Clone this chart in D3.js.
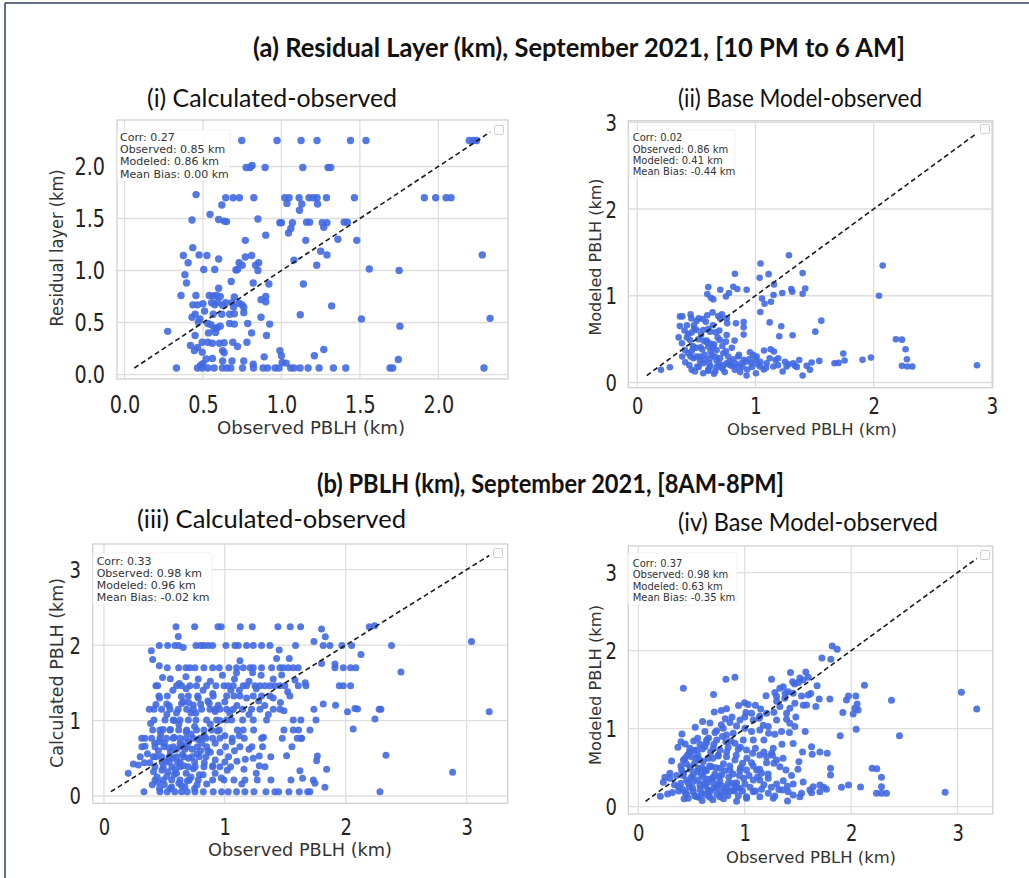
<!DOCTYPE html>
<html><head><meta charset="utf-8">
<script src="https://cdn.jsdelivr.net/npm/d3@7"></script>
<style>body{margin:0;background:#fff}svg{display:block}</style>
</head><body>
<script>
// ---------------- DATA ----------------
// (i) Residual layer: calculated vs observed (night)
const calcNight = [
[0.747,2.25],[0.972,2.25],[1.125,2.25],[1.227,2.25],[1.44,2.25],[1.539,2.25],[2.197,2.25],[2.223,2.25],[2.244,2.25],
[0.775,1.99],[0.80,1.99],[0.813,2.01],[0.896,1.99],[1.136,1.99],[1.297,1.99],[1.314,1.99],
[0.456,1.73],[0.645,1.70],[0.692,1.70],[0.732,1.70],[0.824,1.70],[1.021,1.70],[1.049,1.70],[1.113,1.70],[1.176,1.70],[1.204,1.70],[1.227,1.70],[1.287,1.70],[1.465,1.70],[1.911,1.70],[1.983,1.70],[2.049,1.70],[2.081,1.70],
[0.62,1.63],[1.035,1.645],[1.13,1.64],[1.23,1.64],[1.115,1.58],
[0.43,1.485],[0.545,1.54],[0.60,1.49],[0.635,1.475],[0.65,1.47],[0.85,1.495],[0.99,1.46],[1.0,1.46],[1.07,1.46],[1.16,1.465],[1.18,1.465],[1.26,1.46],[1.29,1.46],[1.27,1.415],[1.40,1.465],[1.42,1.465],
[1.045,1.36],[1.06,1.405],[0.90,1.34],[0.77,1.29],[1.155,1.29],[1.36,1.30],[1.48,1.29],
[0.435,1.22],[0.375,1.145],[0.475,1.15],[0.525,1.145],[0.60,1.11],[0.77,1.13],[0.81,1.145],[1.25,1.185],[1.29,1.15],[2.28,1.15],[1.08,1.10],
[0.405,1.075],[0.73,1.075],[0.75,1.05],[0.71,1.005],[0.72,1.01],[0.835,1.05],[0.855,1.075],[0.85,1.0],[1.225,1.05],[1.56,1.015],[1.75,1.0],[0.505,1.01],[0.575,1.01],[0.385,0.96],
[0.395,0.88],[0.60,0.83],[0.68,0.895],[0.82,0.88],[0.92,0.87],[1.14,0.87],[0.87,0.72],[0.90,0.75],[0.90,0.70],
[0.36,0.76],[0.455,0.76],[0.54,0.76],[0.565,0.755],[0.585,0.76],[0.61,0.75],[0.70,0.745],
[0.435,0.67],[0.465,0.67],[0.50,0.68],[0.555,0.69],[0.595,0.695],[0.645,0.69],[0.685,0.69],[0.73,0.685],[0.75,0.67],[0.76,0.645],[1.32,0.66],[0.575,0.67],[0.625,0.665],[0.695,0.65],
[0.45,0.58],[0.51,0.61],[0.565,0.58],[0.62,0.58],[0.67,0.58],[0.70,0.585],[0.76,0.595],[1.12,0.575],[0.43,0.55],[0.48,0.535],[0.87,0.55],[1.51,0.535],[2.33,0.54],[0.47,0.505],[0.53,0.49],
[0.55,0.48],[0.57,0.445],[0.59,0.45],[0.61,0.465],[0.70,0.485],[0.67,0.49],[0.785,0.49],[0.925,0.485],[1.755,0.465],[0.275,0.415],[0.45,0.375],[0.535,0.40],[0.58,0.405],[0.81,0.40],[0.905,0.375],
[0.42,0.28],[0.465,0.26],[0.495,0.31],[0.53,0.31],[0.56,0.30],[0.605,0.30],[0.635,0.305],[0.69,0.31],[0.72,0.27],[0.78,0.31],
[0.445,0.23],[0.495,0.215],[0.625,0.23],[0.635,0.21],[0.99,0.23],[1.27,0.24],[0.89,0.17],[1.21,0.18],[1.0,0.18],
[0.52,0.15],[0.56,0.155],[0.625,0.13],[0.685,0.13],[0.76,0.13],[1.005,0.115],[1.03,0.11],[1.745,0.145],[0.485,0.09],[0.50,0.105],[0.82,0.10],
[0.331,0.0625],[0.465,0.0625],[0.495,0.0625],[0.531,0.0625],[0.571,0.0625],[0.624,0.0625],[0.652,0.0625],[0.677,0.0625],[0.752,0.0625],[0.822,0.0625],[0.883,0.0625],[0.911,0.0625],[0.96,0.0625],[0.985,0.0625],[1.059,0.0625],[1.08,0.0625],[1.119,0.0625],[1.17,0.0625],[1.24,0.0625],[1.331,0.0625],[1.41,0.0625],[1.692,0.0625],[1.709,0.0625],[2.291,0.0625]
];

// (ii) Base model vs observed (night)
const modelNight = [
[1.283,1.467],[1.043,1.372],[2.076,1.349],[1.111,1.249],[1.399,1.261],[0.826,1.253],[1.035,1.207],[1.156,1.130],[1.303,1.077],[1.311,1.046],
[1.421,1.084],[1.399,1.023],[1.227,1.031],[1.153,1.008],[0.925,1.069],[0.846,1.077],[0.812,1.103],[0.702,1.069],[0.601,1.100],[0.592,1.019],
[0.623,0.977],[0.643,0.958],[0.750,0.992],[0.776,1.031],[1.055,0.969],[1.077,0.908],[1.131,0.931],[2.045,1.000],[1.041,0.812],
[0.361,0.762],[0.381,0.762],[0.451,0.785],[0.457,0.739],[0.502,0.709],[0.553,0.732],[0.592,0.774],[0.637,0.808],[0.685,0.766],[0.716,0.785],
[0.756,0.739],[0.761,0.682],[0.835,0.682],[0.900,0.697],[0.900,0.636],[1.120,0.693],[1.218,0.648],[1.557,0.713],[1.506,0.586],[1.314,0.544],
[1.201,0.533],[0.900,0.552],[0.431,0.559],[0.460,0.575],[0.502,0.605],[0.558,0.605],[0.615,0.586],[0.694,0.598],[0.756,0.548],[0.823,0.483],
[0.378,0.452],[0.446,0.490],[0.516,0.498],[0.587,0.483],[0.699,0.490],[0.750,0.471],[2.188,0.498],[2.239,0.494],[2.270,0.383],[2.281,0.268],
[2.239,0.192],[2.284,0.184],[2.327,0.184],[2.874,0.199],[0.403,0.375],[0.474,0.395],[0.536,0.406],[0.601,0.414],[0.671,0.375],[0.728,0.337],
[0.953,0.349],[1.072,0.368],[1.128,0.383],[1.156,0.356],[1.743,0.333],[1.977,0.287],[1.906,0.261],[1.754,0.253],[1.703,0.226],[1.669,0.222],
[1.540,0.249],[0.200,0.146],[0.276,0.176],[0.406,0.234],[0.460,0.146],[0.508,0.184],[0.558,0.222],[0.615,0.184],[0.649,0.100],[0.699,0.184],
[0.756,0.222],[0.812,0.268],[0.854,0.184],[0.902,0.261],[0.925,0.080],[0.967,0.222],[1.004,0.107],[1.038,0.184],[1.094,0.222],[1.151,0.184],
[1.193,0.280],[1.230,0.126],[1.263,0.184],[1.334,0.192],[1.399,0.080],[1.433,0.192],[1.475,0.230],[1.461,0.146],[1.320,0.222],[1.010,0.299],
[0.981,0.318],[0.854,0.299],[0.530,0.299],[0.474,0.280],[0.431,0.337],[0.615,0.280],[0.671,0.253],[0.784,0.203],[0.826,0.146],[0.558,0.107],
[0.488,0.126],[0.601,0.134],[0.53,0.25],[0.57,0.32],[0.62,0.36],[0.66,0.30],[0.69,0.22],[0.72,0.16],[0.77,0.30],[0.80,0.19],
[0.88,0.22],[0.93,0.15],[0.95,0.27],[0.50,0.40],[0.54,0.55],[0.64,0.66],[0.68,0.52],[0.72,0.42],[0.58,0.70],[0.48,0.62],
[0.62,0.45],[0.45,0.30],[0.40,0.60],[0.35,0.52],[0.60,0.15],[0.66,0.13],[0.74,0.12],[0.87,0.12],[1.07,0.15],[1.17,0.26],
[1.25,0.24],[1.37,0.26],[1.02,0.21],
[0.44,0.20],[0.47,0.42],[0.50,0.30],[0.52,0.18],[0.55,0.38],[0.57,0.26],[0.59,0.46],[0.61,0.22],[0.63,0.32],[0.65,0.44],
[0.67,0.18],[0.70,0.28],[0.73,0.20],[0.75,0.36],[0.78,0.24],[0.80,0.40],[0.83,0.22],[0.86,0.32],[0.89,0.18],[0.92,0.24],
[0.97,0.18],[1.00,0.26],[1.04,0.24],[1.09,0.17],[1.12,0.28],[1.19,0.20],[1.28,0.21],[1.35,0.18],[0.42,0.52],[0.48,0.66],
[0.56,0.48],[0.60,0.62],[0.66,0.58],[0.70,0.74],[0.52,0.74],[0.46,0.36],[0.38,0.30],[0.36,0.65],[0.42,0.66],[0.64,0.40]
];

// (iii) Calculated PBLH vs observed (day)
const calcDay = [
[0.596,2.243],[0.750,2.243],[0.943,2.243],[0.970,2.243],[1.128,2.243],[1.227,2.243],[1.439,2.243],[1.541,2.243],[1.627,2.243],[1.800,2.212],[2.195,2.243],[2.239,2.256],[0.615,2.115],[1.831,2.110],
[0.458,1.996],[0.527,1.996],[0.587,1.996],[0.618,1.996],[0.656,1.969],[0.761,1.996],[0.800,1.996],[0.827,1.996],[0.863,1.996],[0.899,1.996],[1.009,1.996],[1.084,1.996],[1.111,1.996],[1.180,1.996],[1.235,1.996],[1.304,1.996],[1.373,1.996],[1.450,1.934],[1.585,1.996],[1.814,1.996],[1.869,1.996],[1.969,1.996],[2.049,1.996],[2.379,1.996],
[0.392,1.925],[1.737,2.049],[3.041,2.049],[2.126,1.876],[2.457,1.642],[0.403,1.810],[1.428,1.823],[1.533,1.823],[1.125,1.792],[1.800,1.757],
[0.458,1.726],[0.524,1.70],[0.618,1.70],[0.678,1.70],[0.711,1.70],[0.753,1.70],[0.827,1.70],[0.899,1.70],[0.954,1.70],[1.034,1.70],[1.097,1.70],[1.152,1.70],[1.208,1.70],[1.235,1.70],[1.304,1.70],[1.387,1.70],[1.456,1.70],[1.483,1.70],[1.525,1.70],[1.566,1.70],[1.607,1.70],[1.911,1.70],[1.980,1.70],[2.040,1.70],[2.084,1.70],
[0.485,1.572],[0.549,1.554],[0.623,1.492],[0.678,1.581],[1.097,1.634],[1.230,1.634],[1.470,1.603],[1.580,1.536],[1.665,1.501],[1.911,1.748],
[0.430,1.461],[0.444,1.461],[0.601,1.461],[0.642,1.461],[0.711,1.461],[0.766,1.461],[0.849,1.461],[0.926,1.461],[0.993,1.461],[1.028,1.461],[1.070,1.461],[1.152,1.461],[1.180,1.461],[1.249,1.461],[1.290,1.461],[1.332,1.461],[1.373,1.461],[1.414,1.461],[1.456,1.461],[1.497,1.461],[1.607,1.461],[1.671,1.461],[1.947,1.461],[1.980,1.461],[2.040,1.461],
[0.455,1.325],[0.524,1.325],[0.698,1.325],[0.775,1.325],[0.904,1.325],[1.015,1.325],[1.075,1.325],[1.125,1.325],[1.235,1.325],[1.304,1.325],[1.373,1.325],[1.538,1.325],
[0.430,1.214],[0.540,1.196],[0.642,1.227],[0.739,1.205],[0.800,1.219],[0.871,1.227],[0.946,1.201],
[0.375,1.148],[0.414,1.148],[0.477,1.148],[0.546,1.148],[0.615,1.148],[0.684,1.148],[0.739,1.148],[0.808,1.148],[0.877,1.148],[0.918,1.148],[0.959,1.148],[1.015,1.148],[1.070,1.148],[1.147,1.148],[1.221,1.148],[1.290,1.148],[1.401,1.148],[1.456,1.148],[1.489,1.130],[1.814,1.219],[1.916,1.201],[1.737,1.148],[2.015,1.117],[2.076,1.161],[2.098,1.152],[2.277,1.148],[2.291,1.148],[3.187,1.117],[2.242,1.020],
[0.386,0.962],[0.414,1.007],[0.505,1.007],[0.573,1.007],[0.629,1.007],[0.698,1.007],[0.761,1.007],[0.849,1.007],[0.932,1.007],[1.015,1.007],[1.056,1.007],[1.147,1.007],[1.235,1.007],[1.345,1.007],[1.566,1.007],[1.629,1.007],[1.754,1.007],[2.062,0.887],
[0.403,0.874],[0.463,0.874],[0.546,0.874],[0.618,0.874],[0.684,0.874],[0.766,0.874],[0.827,0.874],[0.891,0.874],[0.954,0.874],[1.103,0.874],[1.152,0.874],[1.238,0.874],[1.489,0.874],[1.566,0.874],[1.610,0.874],[1.704,0.874],[1.635,0.764],
[0.312,0.764],[0.339,0.764],[0.394,0.764],[0.463,0.764],[0.518,0.764],[0.573,0.764],[0.629,0.764],[0.678,0.764],[0.739,0.764],[0.794,0.764],[0.844,0.764],[0.899,0.764],[0.959,0.764],[1.061,0.764],[1.161,0.764],[1.304,0.764],[1.475,0.764],[1.599,0.764],[1.632,0.764],
[0.314,0.653],[0.422,0.653],[0.496,0.653],[0.573,0.653],[0.634,0.653],[0.689,0.653],[0.772,0.653],[0.849,0.653],[1.006,0.653],[1.125,0.653],[1.224,0.653],[1.312,0.653],[1.555,0.653],
[0.243,0.424],[0.284,0.411],[0.334,0.442],[0.408,0.521],[0.477,0.521],[0.540,0.521],[0.601,0.521],[0.662,0.521],[0.728,0.521],[0.789,0.521],[0.844,0.521],[0.921,0.477],[1.031,0.521],[1.169,0.486],[1.235,0.499],[1.285,0.530],[1.511,0.534],[1.765,0.530],[2.333,0.539],[1.759,0.468],
[0.201,0.300],[0.422,0.389],[0.491,0.389],[0.562,0.389],[0.629,0.389],[0.698,0.389],[0.755,0.389],[0.827,0.389],[0.899,0.389],[0.959,0.389],[1.048,0.389],[1.158,0.353],[1.285,0.402],[1.332,0.389],[1.621,0.336],[1.842,0.353],[2.884,0.313],[1.643,0.234],
[0.422,0.212],[0.491,0.212],[0.560,0.212],[0.629,0.212],[0.706,0.212],[0.780,0.212],[0.899,0.212],[0.993,0.212],[1.075,0.212],[1.166,0.212],[1.268,0.212],[1.381,0.212],[1.547,0.212],[1.732,0.212],[1.745,0.168],
[0.331,0.057],[0.463,0.057],[0.524,0.057],[0.587,0.057],[0.642,0.057],[0.689,0.057],[0.753,0.057],[0.822,0.057],[0.904,0.057],[0.973,0.057],[1.028,0.057],[1.097,0.057],[1.166,0.057],[1.241,0.057],[1.340,0.057],[1.414,0.057],[1.445,0.057],[1.530,0.057],[1.616,0.057],[1.685,0.057],[1.704,0.057],[1.828,0.115],[2.283,0.057],
[0.45,0.60],[0.50,0.70],[0.55,0.58],[0.60,0.62],[0.65,0.55],[0.70,0.72],[0.48,0.45],[0.53,0.32],[0.58,0.28],[0.63,0.45],[0.68,0.30],[0.73,0.62],[0.44,0.25],[0.50,0.15],[0.56,0.12],[0.62,0.17],[0.67,0.12],[0.72,0.25],[0.77,0.15],[0.82,0.28],
[0.86,0.60],[0.92,0.70],[0.96,0.58],[0.47,0.82],[0.55,0.88],[0.62,0.95],[0.68,0.85],[0.75,0.92],[0.83,0.80],[0.88,0.95],[0.52,1.08],[0.60,1.10],[0.66,1.25],[0.72,1.10],[0.78,1.30],[0.86,1.26],[0.92,1.12],[1.00,1.25],[1.05,1.40],[1.10,1.20],
[1.18,1.30],[1.26,1.42],[1.33,1.20],[1.40,1.30],[0.57,1.40],[0.68,1.42],[0.78,1.55],[0.88,1.52],[0.98,1.60],[1.08,1.55],[1.20,1.52],[1.30,1.60],[1.40,1.55],[0.42,0.70],[0.40,0.15],[0.46,0.10],[0.54,0.45],[0.59,0.35],[0.65,0.68],[0.75,0.45],
[0.80,0.60],[0.78,0.75],[0.92,0.30],[1.00,0.45],[1.08,0.60],[1.12,0.80],[1.00,0.80],
[0.41,0.32],[0.43,0.52],[0.45,0.18],[0.46,0.72],[0.48,0.34],[0.49,0.88],[0.51,0.46],[0.52,0.26],[0.54,0.64],[0.55,0.10],
[0.57,0.50],[0.58,0.78],[0.60,0.30],[0.61,0.44],[0.63,0.70],[0.64,0.14],[0.66,0.40],[0.67,0.62],[0.69,0.20],[0.70,0.50],
[0.72,0.82],[0.74,0.36],[0.75,0.10],[0.77,0.56],[0.79,0.28],[0.81,0.70],[0.83,0.44],[0.85,0.16],[0.88,0.58],[0.90,0.40],
[0.94,0.86],[0.97,0.24],[1.02,0.34],[1.06,0.72],[1.10,0.46],[1.14,0.16],[1.20,0.62],[1.26,0.30],[1.32,0.78],[1.38,0.52],
[0.46,1.30],[0.52,1.22],[0.58,1.00],[0.64,1.32],[0.70,1.24],[0.76,1.10],[0.82,1.40],[0.90,1.36],[0.96,1.00],[1.04,1.10],
[1.12,1.40],[1.20,1.08],[1.28,1.26],[1.36,1.08],[1.46,1.24],[1.52,1.38],[0.36,0.56],[0.38,0.44],[0.34,0.66],[0.30,0.52]
];

// (iv) Base model vs observed (day)
const modelDay = [
[1.822,2.060],[1.869,2.017],[1.725,1.906],[1.809,1.889],[1.574,1.726],[1.430,1.718],[1.518,1.650],[1.596,1.658],[1.505,1.590],[1.468,1.573],
[1.549,1.624],[1.252,1.632],[1.362,1.538],[1.330,1.517],[1.408,1.474],[1.283,1.462],[1.299,1.410],[1.377,1.389],[1.455,1.453],[1.534,1.419],
[1.596,1.432],[2.125,1.556],[3.036,1.466],[3.180,1.252],[2.379,1.363],[1.975,1.419],[2.044,1.419],[1.800,1.380],[1.956,1.368],[2.056,1.316],
[2.034,1.261],[2.066,1.239],[1.922,1.205],[2.019,1.188],[1.668,1.282],[1.581,1.303],[1.471,1.325],[1.424,1.261],[1.330,1.282],[1.393,1.197],
[1.274,1.209],[1.205,1.197],[1.136,1.132],[0.423,1.517],[0.707,1.436],[0.823,1.632],[0.908,1.658],[0.942,1.295],[0.998,1.333],[1.033,1.308],
[1.064,1.197],[1.011,1.205],[0.955,1.111],[1.080,1.111],[1.142,1.162],[1.174,1.043],[1.221,1.026],[1.299,1.111],[1.393,1.120],[1.424,1.068],
[1.471,1.026],[1.568,0.962],[1.346,0.962],[1.283,0.927],[1.224,0.940],[1.142,0.983],[1.064,0.962],[1.002,1.004],[0.923,1.034],[0.861,1.077],
[0.817,1.128],[0.779,1.231],[0.829,1.256],[0.714,1.214],[0.604,1.090],[0.673,1.073],[0.535,1.017],[0.626,0.962],[0.736,0.974],[0.798,1.004],
[0.829,0.919],[0.892,0.940],[0.410,0.932],[0.401,0.833],[1.897,0.910],[2.047,0.991],[2.454,0.910],[0.557,0.876],[0.642,0.855],[0.736,0.855],
[0.823,0.833],[0.908,0.812],[0.986,0.855],[1.080,0.855],[1.180,0.855],[1.455,0.808],[1.268,0.748],[1.252,0.684],[1.543,0.701],[1.628,0.769],
[1.634,0.671],[1.706,0.701],[1.775,0.684],[0.372,0.761],[0.441,0.803],[0.485,0.748],[0.548,0.726],[0.626,0.769],[0.704,0.748],[0.767,0.726],
[0.845,0.761],[0.939,0.735],[1.017,0.726],[1.074,0.684],[1.142,0.662],[1.205,0.641],[1.299,0.598],[0.313,0.585],[0.423,0.598],[0.501,0.641],
[0.579,0.598],[0.657,0.620],[0.751,0.650],[0.829,0.641],[0.908,0.598],[0.980,0.556],[1.064,0.564],[1.205,0.564],[1.274,0.556],[1.330,0.513],
[1.387,0.470],[1.509,0.577],[1.806,0.491],[1.806,0.406],[2.197,0.491],[2.241,0.487],[2.285,0.376],[0.407,0.470],[0.485,0.513],[0.563,0.491],
[0.626,0.470],[0.689,0.513],[0.767,0.491],[0.861,0.470],[0.955,0.462],[1.017,0.470],[1.111,0.470],[1.158,0.427],[0.423,0.427],[0.297,0.427],
[0.250,0.376],[0.516,0.406],[0.610,0.385],[0.704,0.376],[0.782,0.406],[0.235,0.312],[0.297,0.363],[0.376,0.256],[0.454,0.342],[0.516,0.321],
[0.579,0.278],[0.642,0.299],[0.704,0.308],[0.767,0.321],[0.845,0.299],[0.923,0.308],[1.002,0.291],[1.080,0.342],[1.142,0.342],[1.221,0.363],
[1.299,0.291],[1.362,0.333],[1.455,0.291],[1.549,0.316],[1.643,0.256],[1.743,0.248],[1.706,0.278],[1.909,0.248],[1.975,0.278],[2.088,0.252],
[2.285,0.256],[0.416,0.222],[0.454,0.162],[0.516,0.192],[0.595,0.171],[0.657,0.214],[0.736,0.235],[0.814,0.192],[0.892,0.214],[0.955,0.235],
[1.017,0.128],[1.080,0.192],[1.158,0.222],[1.221,0.171],[1.283,0.137],[1.355,0.214],[1.408,0.192],[1.455,0.150],[1.534,0.171],[1.612,0.214],
[1.706,0.192],[1.768,0.222],[0.207,0.132],[0.275,0.162],[0.469,0.107],[0.548,0.128],[0.673,0.120],[0.767,0.128],[0.923,0.068],[1.017,0.107],
[1.142,0.128],[1.268,0.107],[1.402,0.073],[1.518,0.128],[1.628,0.179],[2.238,0.171],[2.285,0.171],[2.332,0.171],[2.883,0.184],
[0.45,0.55],[0.50,0.38],[0.55,0.62],[0.60,0.50],[0.65,0.35],[0.70,0.62],[0.75,0.28],[0.80,0.55],[0.85,0.38],[0.90,0.20],
[0.95,0.40],[0.48,0.25],[0.53,0.14],[0.58,0.22],[0.63,0.16],[0.68,0.20],[0.72,0.42],[0.78,0.18],[0.83,0.24],[0.88,0.30],
[0.52,0.72],[0.58,0.80],[0.66,0.88],[0.72,0.95],[0.78,1.05],[0.88,1.15],[0.62,0.30],[0.55,0.45],[0.46,0.66],[0.40,0.30],
[0.38,0.20],[0.98,0.20],[1.05,0.25],[1.10,0.20],[1.18,0.28],[1.25,0.25],[1.32,0.22],[1.40,0.26],[1.12,0.38],[1.02,0.62],
[1.10,0.75],[1.18,0.70],[1.35,0.80],[1.42,0.95],[1.48,1.15],[1.55,1.30],[1.62,1.45],[1.68,1.55],[1.70,1.38],[1.45,1.60],
[1.38,1.45],[1.30,1.35],[1.15,1.25],[1.20,1.42],[1.10,1.30],[1.00,1.15],
[0.42,0.40],[0.44,0.18],[0.47,0.30],[0.49,0.48],[0.51,0.24],[0.53,0.56],[0.56,0.34],[0.57,0.12],[0.59,0.42],[0.61,0.58],
[0.63,0.26],[0.64,0.46],[0.66,0.14],[0.67,0.52],[0.69,0.36],[0.71,0.24],[0.73,0.50],[0.74,0.16],[0.76,0.38],[0.79,0.26],
[0.81,0.46],[0.84,0.14],[0.86,0.52],[0.89,0.42],[0.91,0.28],[0.94,0.14],[0.96,0.50],[0.99,0.36],[0.44,0.62],[0.48,0.70],
[0.52,0.84],[0.56,0.66],[0.60,0.74],[0.64,0.82],[0.68,0.70],[0.71,0.80],[0.75,0.66],[0.79,0.90],[0.83,0.70],[0.87,0.84],
[0.92,0.66],[0.96,0.76],[0.40,0.52],[0.36,0.40],[0.34,0.28],[0.32,0.18],[0.43,0.10],[0.60,0.08],[0.70,0.09],[0.80,0.10],
[0.86,0.20],[0.93,0.24],[1.04,0.40],[1.08,0.52],[1.14,0.48],[1.22,0.42],[1.26,0.66],[1.36,0.62],[1.44,0.40],[1.50,0.48]
];

const statsCalcNight  = ["Corr: 0.27","Observed: 0.85 km","Modeled: 0.86 km","Mean Bias: 0.00 km"];
const statsModelNight = ["Corr: 0.02","Observed: 0.86 km","Modeled: 0.41 km","Mean Bias: -0.44 km"];
const statsCalcDay    = ["Corr: 0.33","Observed: 0.98 km","Modeled: 0.96 km","Mean Bias: -0.02 km"];
const statsModelDay   = ["Corr: 0.37","Observed: 0.98 km","Modeled: 0.63 km","Mean Bias: -0.35 km"];

const ticksHalf = [0, 0.5, 1, 1.5, 2];
const ticksUnit = [0, 1, 2, 3];

const titleA = "(a) Residual Layer (km), September 2021, [10 PM to 6 AM]";
const titleB = "(b) PBLH (km), September 2021, [8AM-8PM]";
const subTitles = ["(i) Calculated-observed","(ii) Base Model-observed","(iii) Calculated-observed","(iv) Base Model-observed"];
const xTitle = "Observed PBLH (km)";
const yTitles = ["Residual layer (km)","Modeled PBLH (km)","Calculated PBLH (km)","Modeled PBLH (km)"];

// ---------------- DRAW ----------------
const W = 1029, H = 878;
const svg = d3.select("body").append("svg").attr("width", W).attr("height", H);
svg.append("rect").attr("width", W).attr("height", H).attr("fill", "#fff");

svg.append("line").attr("x1", 5).attr("y1", 3).attr("x2", W).attr("y2", 3).attr("stroke", "#2f3d5a").attr("stroke-width", 1.5);
svg.append("line").attr("x1", 5).attr("y1", 3).attr("x2", 5).attr("y2", H).attr("stroke", "#2f3d5a").attr("stroke-width", 1.5);

const MPL = "'DejaVu Sans', 'Liberation Sans', sans-serif";
const CAL = "Lato, 'Open Sans', 'Liberation Sans', sans-serif";

function fit(sel, len) { sel.attr("textLength", len).attr("lengthAdjust", "spacingAndGlyphs"); }
function condense(sel, f) {
  sel.each(function () {
    const w = this.getComputedTextLength();
    d3.select(this).attr("textLength", w * f).attr("lengthAdjust", "spacingAndGlyphs");
  });
}

function headline(txt, cx, cy, size, weight, len) {
  const t = svg.append("text").attr("x", cx).attr("y", cy).attr("text-anchor", "middle")
    .attr("dominant-baseline", "central").attr("font-family", CAL).attr("font-size", size)
    .attr("font-weight", weight).attr("fill", "#111").text(txt);
  fit(t, len);
}
headline(titleA, 579, 47, 26, 700, 652);
headline(titleB, 550.5, 483, 26, 700, 467);
headline(subTitles[0], 272, 97, 25, 400, 250);
headline(subTitles[1], 800, 97, 25, 400, 244);
headline(subTitles[2], 271.5, 518, 25, 400, 269);
headline(subTitles[3], 808, 521, 25, 400, 260);

function panel(c) {
  const x = d3.scaleLinear().domain(c.xd).range([c.L, c.R]);
  const y = d3.scaleLinear().domain(c.yd).range([c.B, c.T]);
  const g = svg.append("g");
  const grid = "#dedede";
  g.selectAll(".gx").data(c.ticks).join("line")
    .attr("x1", d => x(d)).attr("x2", d => x(d)).attr("y1", c.T).attr("y2", c.B)
    .attr("stroke", grid).attr("stroke-width", 1.3);
  g.selectAll(".gy").data(c.ticks).join("line")
    .attr("y1", d => y(d)).attr("y2", d => y(d)).attr("x1", c.L).attr("x2", c.R)
    .attr("stroke", grid).attr("stroke-width", 1.3);
  g.append("rect").attr("x", c.L).attr("y", c.T).attr("width", c.R - c.L).attr("height", c.B - c.T)
    .attr("fill", "none").attr("stroke", "#d4d4d4").attr("stroke-width", 1.4);

  g.append("rect").attr("x", c.box[0]).attr("y", c.box[1]).attr("width", c.box[2] - c.box[0])
    .attr("height", c.box[3] - c.box[1]).attr("rx", 2).attr("fill", "#fff").attr("fill-opacity", 0.85)
    .attr("stroke", "#eeeeee").attr("stroke-width", 0.8);
  g.selectAll(".st").data(c.stats).join("text")
    .attr("x", c.sx).attr("y", (d, i) => c.sy0 + i * c.sdy).attr("dominant-baseline", "central")
    .attr("font-family", MPL).attr("font-size", c.sfs).attr("fill", "#333").text(d => d);

  g.append("rect").attr("x", c.leg[0] - 4.5).attr("y", c.leg[1] - 4.5).attr("width", 9).attr("height", 9)
    .attr("rx", 1.5).attr("fill", "#fff").attr("stroke", "#d0d0d0").attr("stroke-width", 1);

  g.append("g").selectAll("circle").data(c.data).join("circle")
    .attr("cx", d => x(d[0])).attr("cy", d => y(d[1])).attr("r", c.r)
    .attr("fill", "#4169e1").attr("fill-opacity", 0.9);

  const all = c.data.flat();
  const lo = d3.min(all), hi = d3.max(all);
  g.append("line").attr("x1", x(lo)).attr("y1", y(lo)).attr("x2", x(hi)).attr("y2", y(hi))
    .attr("stroke", "#1a1a1a").attr("stroke-width", 1.6).attr("stroke-dasharray", "5,3.2");

  const ax = g.append("g").attr("transform", `translate(0,${c.B})`)
    .call(d3.axisBottom(x).tickValues(c.ticks).tickSize(0).tickFormat(c.fmt));
  ax.select(".domain").remove();
  ax.selectAll("text").attr("y", c.xly - c.B).attr("dy", null).attr("dominant-baseline", "central")
    .attr("font-family", MPL).attr("font-size", c.tfs).attr("fill", "#222");
  condense(ax.selectAll("text"), c.cf);

  const ay = g.append("g").attr("transform", `translate(${c.L},0)`)
    .call(d3.axisLeft(y).tickValues(c.ticks).tickSize(0).tickFormat(c.fmt));
  ay.select(".domain").remove();
  ay.selectAll("text").attr("x", -(c.L - c.ylx)).attr("dy", null).attr("dominant-baseline", "central")
    .attr("font-family", MPL).attr("font-size", c.tfs).attr("fill", "#222");
  condense(ay.selectAll("text"), c.cf);

  const xt = g.append("text").attr("x", c.xt[0]).attr("y", c.xt[1]).attr("text-anchor", "middle")
    .attr("dominant-baseline", "central").attr("font-family", MPL).attr("font-size", c.afs)
    .attr("fill", "#333").text(xTitle);
  fit(xt, c.xt[2]);
  const yt = g.append("text").attr("transform", `translate(${c.yt[0]},${c.yt[1]}) rotate(-90)`)
    .attr("text-anchor", "middle").attr("dominant-baseline", "central").attr("font-family", MPL)
    .attr("font-size", c.afs).attr("fill", "#333").text(c.ytitle);
  fit(yt, c.yt[2]);
}

panel({ data: calcNight, L: 117, R: 508, T: 120, B: 379, xd: [-0.048, 2.444], yd: [-0.043, 2.447],
  ticks: ticksHalf, fmt: d3.format(".1f"), r: 3.7, stats: statsCalcNight,
  box: [117.5, 130, 230, 181], sx: 120, sy0: 137, sdy: 12.4, sfs: 11, leg: [499, 130],
  xly: 405, ylx: 105, tfs: 24, cf: 0.8, afs: 17, xt: [311, 428, 188], yt: [57, 248, 157], ytitle: yTitles[0] });

panel({ data: modelNight, L: 628.3, R: 992.7, T: 120.7, B: 387.7, xd: [-0.076, 3.007], yd: [-0.06, 3.018],
  ticks: ticksUnit, fmt: d3.format("d"), r: 3.3, stats: statsModelNight,
  box: [629, 130, 735, 177], sx: 632.7, sy0: 137.7, sdy: 11.4, sfs: 10, leg: [985, 129],
  xly: 406, ylx: 617, tfs: 23, cf: 0.78, afs: 16, xt: [812, 429, 170], yt: [595, 257, 157], ytitle: yTitles[1] });

panel({ data: calcDay, L: 92.7, R: 507.7, T: 544, B: 803.3, xd: [-0.093, 3.34], yd: [-0.097, 3.34],
  ticks: ticksUnit, fmt: d3.format("d"), r: 3.5, stats: statsCalcDay,
  box: [93, 553, 212, 605], sx: 96.7, sy0: 561, sdy: 12.3, sfs: 11, leg: [498, 553],
  xly: 827, ylx: 81, tfs: 23, cf: 0.78, afs: 17, xt: [300, 850, 184], yt: [57, 673, 190], ytitle: yTitles[2] });

panel({ data: modelDay, L: 628.3, R: 992.7, T: 546, B: 814, xd: [-0.094, 3.33], yd: [-0.094, 3.34],
  ticks: ticksUnit, fmt: d3.format("d"), r: 3.5, stats: statsModelDay,
  box: [628, 553, 737, 605], sx: 632.7, sy0: 563.3, sdy: 11.35, sfs: 10, leg: [985, 555],
  xly: 833, ylx: 617, tfs: 23, cf: 0.78, afs: 16, xt: [811, 857, 170], yt: [595, 685, 160], ytitle: yTitles[3] });
</script>
</body></html>
